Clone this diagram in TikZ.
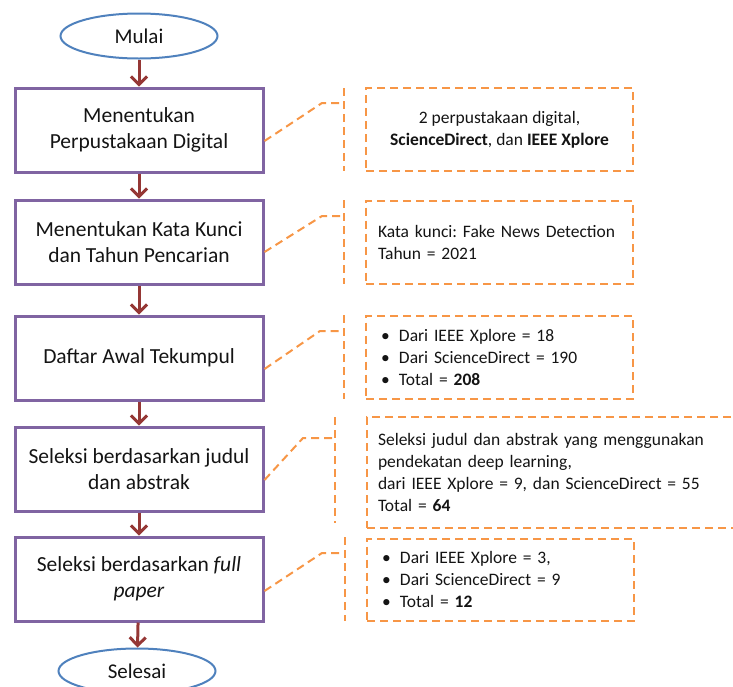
\documentclass[tikz,border=0pt]{standalone}
\usepackage{fontspec}
\setmainfont{Carlito}
\usetikzlibrary{arrows.meta,shapes.geometric,calc}
\definecolor{boxpurple}{RGB}{128,100,162}
\definecolor{ellblue}{RGB}{79,129,189}
\definecolor{arrred}{RGB}{149,55,53}
\definecolor{noteorange}{RGB}{247,150,70}
\definecolor{txt}{RGB}{20,20,20}
\newcommand\bitem{\makebox[18pt][l]{\textbullet}}
\frenchspacing
\begin{document}
\begin{tikzpicture}[x=1pt,y=-1pt, text=txt,
 terminal/.style={ellipse, draw=ellblue, line width=2pt, minimum width=157pt, minimum height=45pt, inner sep=0pt, font=\fontsize{21}{25}\selectfont},
 procbox/.style={rectangle, draw=boxpurple, line width=3pt, minimum width=248pt, minimum height=84pt, inner sep=0pt, align=center, font=\fontsize{21.5}{26}\selectfont},
 notebox/.style={rectangle, draw=noteorange, line width=2pt, dash pattern=on 8pt off 5pt, minimum height=83pt, inner xsep=12pt, inner ysep=0pt, font=\fontsize{17.5}{22}\selectfont},
 callout/.style={draw=noteorange, line width=2pt, dash pattern=on 8pt off 5pt},
 flow/.style={draw=arrred, line width=3pt, -{Straight Barb[length=8pt,width=16pt]}},
]
\useasboundingbox (0,0) rectangle (733,686);
\clip (0,0) rectangle (733,686);

% flowchart
\node[terminal] (mulai) at (139,36) {Mulai};
\node[procbox] (b1) at (139,130) {Menentukan\\Perpustakaan Digital};
\node[procbox] (b2) at (139,242) {Menentukan Kata Kunci\\dan Tahun Pencarian};
\node[procbox] (b3) at (139,358) {Daftar Awal Tekumpul};
\node[procbox] (b4) at (139,469) {Seleksi berdasarkan judul\\dan abstrak};
\node[procbox] (b5) at (139,579) {Seleksi berdasarkan \textit{full}\\\textit{paper}};
\node[terminal] (selesai) at (137,671) {Selesai};

\draw[flow] (mulai) -- (b1);
\draw[flow] (b1) -- (b2);
\draw[flow] (b2) -- (b3);
\draw[flow] (b3) -- (b4);
\draw[flow] (b4) -- (b5);
\draw[flow] (b5) -- (selesai);

% notes
\node[notebox, minimum width=267pt, align=center] (n1) at (499.5,129.5)
  {\rule{0pt}{6pt}2 perpustakaan digital,\\\textbf{ScienceDirect}, dan \textbf{IEEE Xplore}};
\node[notebox, minimum width=267pt, text width=243pt, align=left] (n2) at (499.5,242)
  {Kata kunci: Fake News Detection\\Tahun = 2021};
\node[notebox, minimum width=267pt, inner xsep=15pt, text width=237pt, align=left] (n3) at (499.5,357)
  {\bitem Dari IEEE Xplore = 18\\\bitem Dari ScienceDirect = 190\\\bitem Total = \textbf{208}};
\node[notebox, minimum width=393pt, minimum height=111pt, inner xsep=11pt, text width=371pt, align=left] (n4) at (563.5,472.5)
  {Seleksi judul dan abstrak yang menggunakan\\pendekatan deep learning,\\dari IEEE Xplore = 9, dan ScienceDirect = 55\\Total = \textbf{64}};
\node[notebox, minimum width=267pt, minimum height=82pt, inner xsep=15pt, text width=237pt, align=left] (n5) at (500.5,579.5)
  {\bitem Dari IEEE Xplore = 3,\\\bitem Dari ScienceDirect = 9\\\bitem Total = \textbf{12}};

% callout accent bars and leaders
\coordinate (t1) at (344,88);  \coordinate (u1) at (344,171); \coordinate (k1) at (322,103);
\coordinate (t2) at (344,200); \coordinate (u2) at (344,284); \coordinate (k2) at (322,216);
\coordinate (t3) at (344,315); \coordinate (u3) at (344,399); \coordinate (k3) at (320,331);
\coordinate (t4) at (335,417); \coordinate (u4) at (335,523); \coordinate (k4) at (303,438);
\coordinate (t5) at (345,537); \coordinate (u5) at (345,621); \coordinate (k5) at (322,553);

\draw[callout] (t1) -- (u1);
\draw[callout] (t2) -- (u2);
\draw[callout] (t3) -- (u3);
\draw[callout] (t4) -- (u4);
\draw[callout] (t5) -- (u5);

\draw[callout] ($(b1.east)+(0,11)$) -- (k1) -- (k1 -| t1);
\draw[callout] ($(b2.east)+(0,10)$) -- (k2) -- (k2 -| t2);
\draw[callout] ($(b3.east)+(0,11)$) -- (k3) -- (k3 -| t3);
\draw[callout] ($(b4.east)+(0,11)$) -- (k4) -- (k4 -| t4);
\draw[callout] ($(b5.east)+(0,12)$) -- (k5) -- (k5 -| t5);
\end{tikzpicture}
\end{document}
